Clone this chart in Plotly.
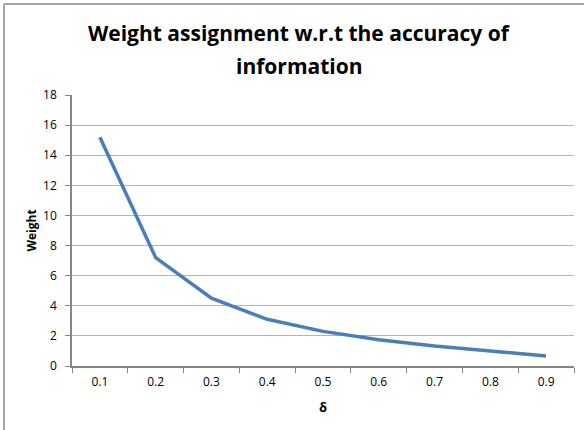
import plotly.graph_objects as go

delta = ["0.1", "0.2", "0.3", "0.4", "0.5", "0.6", "0.7", "0.8", "0.9"]
weight = [15.2, 7.2, 4.5, 3.1, 2.3, 1.75, 1.33, 0.98, 0.66]
y_ticks = [0, 2, 4, 6, 8, 10, 12, 14, 16, 18]
title_lines = ["Weight assignment w.r.t the accuracy of", "information"]

FONT = "Open Sans"
PH = 271  # plot height in px
PW = 502  # plot width in px

fig = go.Figure()
fig.add_trace(go.Scatter(x=delta, y=weight, mode="lines",
                         line=dict(color="#4a7ebb", width=3.5)))

fig.update_layout(
    width=584, height=430,
    margin=dict(l=72, r=10, t=95, b=64, autoexpand=False),
    paper_bgcolor="white", plot_bgcolor="white",
    showlegend=False,
    font=dict(family=FONT, color="black"),
    shapes=[
        dict(type="line", xref="paper", yref="paper", x0=-68 / PW, x1=1.05, y0=1 + 91 / PH, y1=1 + 91 / PH,
             line=dict(color="#a6a6a6", width=2)),
        dict(type="line", xref="paper", yref="paper", x0=-68 / PW, x1=-68 / PW, y0=-0.3, y1=1 + 91 / PH,
             line=dict(color="#a6a6a6", width=2)),
    ],
    annotations=[
        dict(text="<b>%s</b>" % title_lines[0], xref="paper", yref="paper",
             x=(299 - 72) / PW, y=1.0 + (95 - 33) / PH, xanchor="center", yanchor="middle",
             showarrow=False, font=dict(size=21, family=FONT)),
        dict(text="<b>%s</b>" % title_lines[1], xref="paper", yref="paper",
             x=(299 - 72) / PW, y=1.0 + (95 - 66) / PH, xanchor="center", yanchor="middle",
             showarrow=False, font=dict(size=21, family=FONT)),
    ],
)

fig.update_xaxes(
    type="category", range=[-0.5, 8.5], tickson="boundaries", ticks="outside", ticklen=5,
    tickcolor="#868686", showline=True, linecolor="#868686", linewidth=1.5,
    showgrid=False, tickfont=dict(size=12, family=FONT), ticklabelstandoff=4,
    automargin=False,
    title=dict(text="<b>δ</b>", font=dict(size=13, family=FONT), standoff=14),
)
fig.update_yaxes(
    range=[0, 18], tickvals=y_ticks, ticks="outside", ticklen=5,
    tickcolor="#868686", showline=True, linecolor="#868686", linewidth=1.5,
    showgrid=True, gridcolor="#b3b3b3", gridwidth=1.2,
    tickfont=dict(size=12, family=FONT), ticklabelstandoff=6, zeroline=False,
    automargin=False,
    title=dict(text="<b>Weight</b>", font=dict(size=12, family=FONT), standoff=4),
)

fig.write_html("out.html", config={"displayModeBar": False},
               post_script="document.body.style.margin='0';")
